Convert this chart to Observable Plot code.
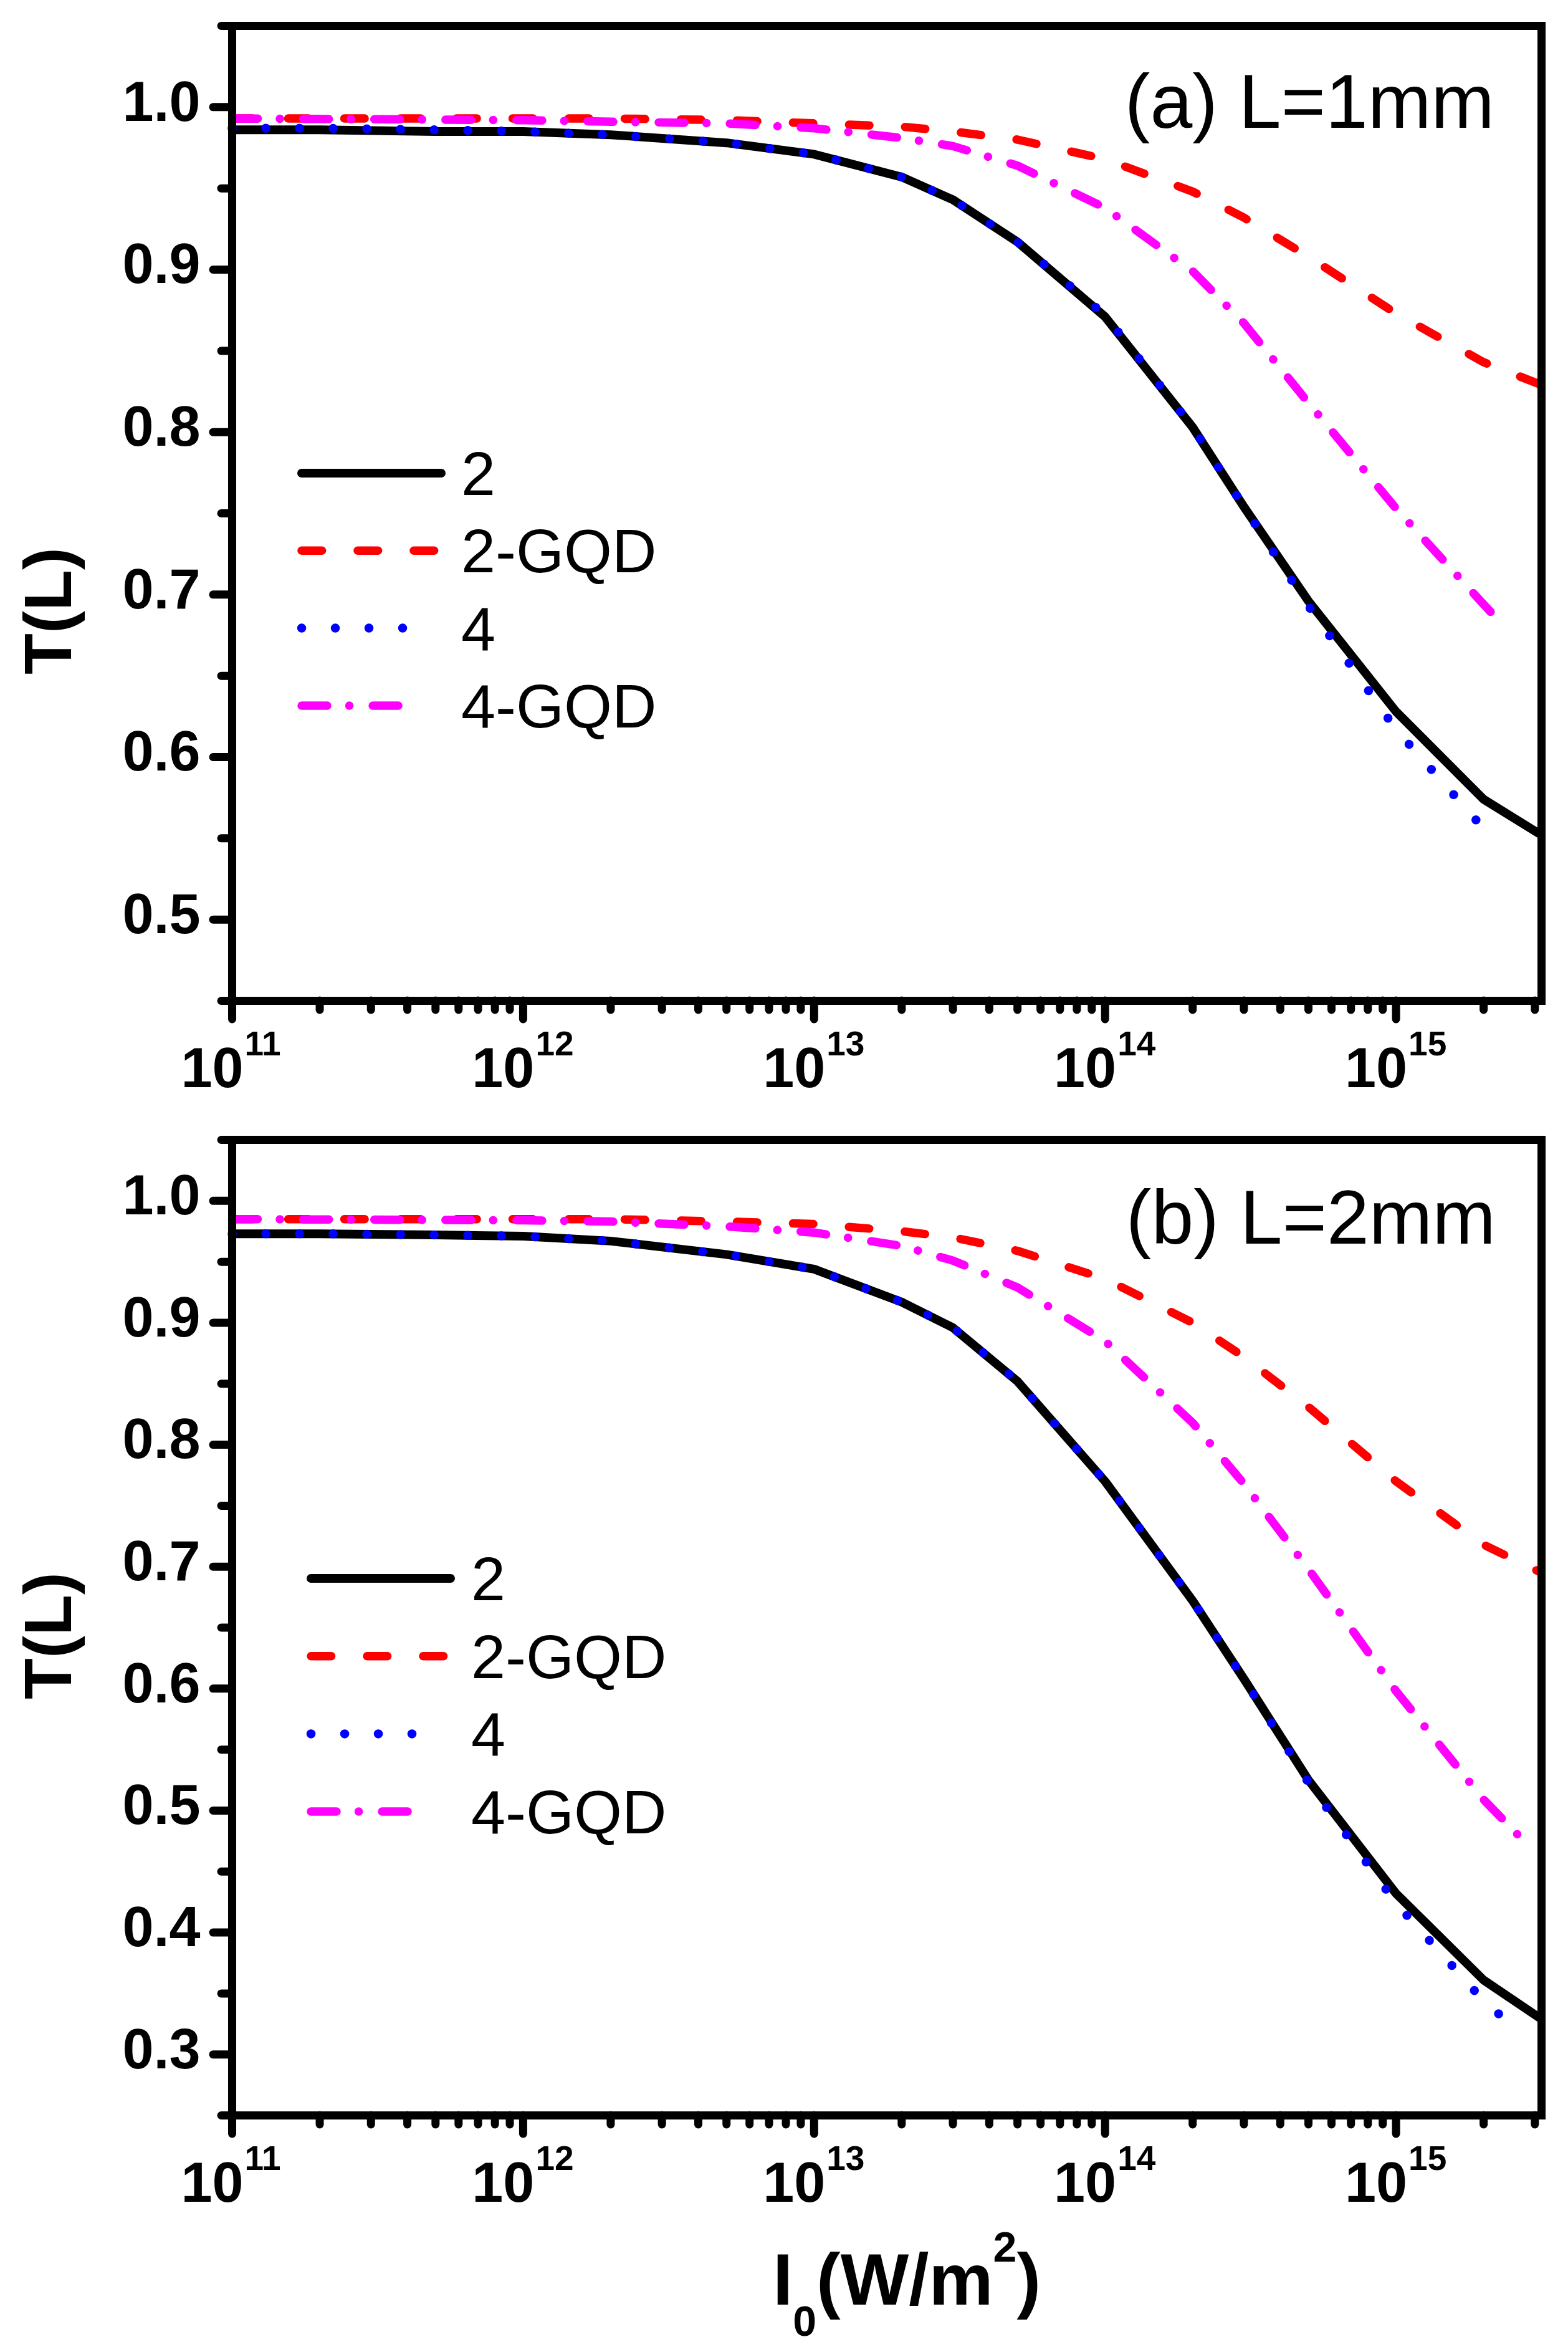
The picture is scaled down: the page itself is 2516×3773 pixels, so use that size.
<!DOCTYPE html>
<html>
<head>
<meta charset="utf-8">
<script src="https://cdn.jsdelivr.net/npm/d3@7"></script>
<script src="https://cdn.jsdelivr.net/npm/@observablehq/plot@0.6"></script>
<style>
  html, body { margin: 0; padding: 0; background: #fff; }
  svg { display: block; }
</style>
</head>
<body>
<div id="chart"></div>
<script>
// ---------- data ----------
const seriesNames = ["2", "2-GQD", "4", "4-GQD"];

// x tick values / labels
const xMajor = [1e11, 1e12, 1e13, 1e14, 1e15];
const xExponents = ["11", "12", "13", "14", "15"];
const xMinor = [2e11,3e11,4e11,5e11,6e11,7e11,8e11,9e11,
                2e12,3e12,4e12,5e12,6e12,7e12,8e12,9e12,
                2e13,3e13,4e13,5e13,6e13,7e13,8e13,9e13,
                2e14,3e14,4e14,5e14,6e14,7e14,8e14,9e14,
                2e15,3e15];

// panel (a) L=1mm
const aYMajor = [0.5, 0.6, 0.7, 0.8, 0.9, 1.0];
const aYMinor = [0.45, 0.55, 0.65, 0.75, 0.85, 0.95, 1.05];
const a_x2   = [1e11,2e11,5e11,1e12,2e12,5e12,1e13,2e13,3e13,5e13,1e14,2e14,3e14,5e14,1e15,2e15,3.16e15];
const a_y2   = [0.986,0.986,0.985,0.985,0.983,0.978,0.971,0.957,0.943,0.917,0.871,0.803,0.754,0.696,0.628,0.574,0.552];
const a_x2G  = [1e11,1e12,2e12,5e12,1e13,2e13,3e13,5e13,1e14,2e14,3e14,5e14,1e15,2e15,3.16e15];
const a_y2G  = [0.993,0.993,0.993,0.992,0.990,0.988,0.985,0.980,0.968,0.948,0.932,0.908,0.873,0.843,0.829];
const a_x4   = [1e11,2e11,5e11,1e12,2e12,5e12,1e13,2e13,3e13,5e13,1e14,2e14,3e14,5e14,1e15,2e15,2.25e15];
const a_y4   = [0.987,0.987,0.986,0.985,0.983,0.978,0.971,0.957,0.943,0.917,0.872,0.803,0.754,0.693,0.617,0.556,0.548];
const a_x4G  = [1e11,1e12,2e12,5e12,1e13,2e13,3e13,5e13,1e14,2e14,3e14,5e14,1e15,2e15,2.2e15];
const a_y4G  = [0.993,0.992,0.991,0.990,0.987,0.981,0.976,0.964,0.938,0.899,0.867,0.818,0.753,0.694,0.686];

// panel (b) L=2mm
const bYMajor = [0.3, 0.4, 0.5, 0.6, 0.7, 0.8, 0.9, 1.0];
const bYMinor = [0.25, 0.35, 0.45, 0.55, 0.65, 0.75, 0.85, 0.95, 1.05];
const b_x2   = [1e11,2e11,5e11,1e12,2e12,5e12,1e13,2e13,3e13,5e13,1e14,2e14,3e14,5e14,1e15,2e15,3.16e15];
const b_y2   = [0.973,0.973,0.972,0.971,0.967,0.956,0.944,0.917,0.896,0.852,0.770,0.672,0.608,0.525,0.432,0.361,0.329];
const b_x2G  = [1e11,1e12,2e12,5e12,1e13,2e13,3e13,5e13,1e14,2e14,3e14,5e14,1e15,2e15,3.16e15];
const b_y2G  = [0.985,0.985,0.985,0.983,0.981,0.975,0.970,0.959,0.936,0.900,0.872,0.831,0.770,0.718,0.695];
const b_x4   = [1e11,2e11,5e11,1e12,2e12,5e12,1e13,2e13,3e13,5e13,1e14,2e14,3e14,5e14,1e15,2e15,2.5e15];
const b_y4   = [0.973,0.973,0.972,0.971,0.967,0.956,0.944,0.917,0.896,0.852,0.770,0.672,0.608,0.523,0.424,0.344,0.324];
const b_x4G  = [1e11,1e12,2e12,5e12,1e13,2e13,3e13,5e13,1e14,2e14,3e14,5e14,1e15,2e15,2.75e15];
const b_y4G  = [0.985,0.984,0.983,0.979,0.974,0.963,0.951,0.929,0.885,0.818,0.768,0.698,0.598,0.509,0.475];

// ---------- styles ----------
const seriesStyle = {
  "2":     {color: "#000000", width: 14, dash: null,                  cap: "butt"},
  "2-GQD": {color: "#ff0000", width: 13.5, dash: "32.6,57.4",         cap: "round"},
  "4":     {color: "#0000ff", width: 14.5, dash: "0.1,53.9",          cap: "round"},
  "4-GQD": {color: "#ff00ff", width: 13.5, dash: "41,35.5,0.1,37.5",  cap: "round"}
};
const FONT = "'Liberation Sans', Arial, Helvetica, sans-serif";

function toRows(xs, ys, name) { return xs.map((x, i) => ({I0: x, T: ys[i], series: name})); }

function makePanel(cfg) {
  const rows = [
    ...toRows(cfg.x2, cfg.y2, "2"),
    ...toRows(cfg.x2G, cfg.y2G, "2-GQD"),
    ...toRows(cfg.x4, cfg.y4, "4"),
    ...toRows(cfg.x4G, cfg.y4G, "4-GQD")
  ];
  const lineMarks = seriesNames.map(name => {
    const s = seriesStyle[name];
    return Plot.line(rows.filter(r => r.series === name), {
      x: "I0", y: "T", stroke: s.color, strokeWidth: s.width,
      strokeDasharray: s.dash ?? undefined, strokeLinecap: s.cap, strokeLinejoin: "round"
    });
  });
  const svg = Plot.plot({
    width: 2516,
    height: cfg.height,
    marginLeft: 372,
    marginRight: 43,
    marginTop: cfg.marginTop,
    marginBottom: cfg.marginBottom,
    style: {fontFamily: FONT, background: "#fff", color: "#000", overflow: "visible"},
    x: {type: "log", domain: [1e11, Math.pow(10, 15.5)], axis: null},
    y: {domain: cfg.yDomain, axis: null},
    marks: [
      Plot.axisY(cfg.yMinor, {anchor: "left", tickSize: 17, strokeWidth: 13, strokeLinecap: "round", fill: "none", label: null}),
      Plot.axisY(cfg.yMajor, {anchor: "left", tickSize: 30, strokeWidth: 13, strokeLinecap: "round", fill: "none", label: null}),
      Plot.axisY(cfg.yMajor, {anchor: "left", tickSize: 0, tickPadding: 51, tickFormat: d => d.toFixed(1),
                              fontSize: 90, fontWeight: "bold", dy: -7, label: null}),
      Plot.axisX(xMinor, {anchor: "bottom", tickSize: 15, strokeWidth: 13, strokeLinecap: "round", fill: "none", label: null}),
      Plot.axisX(xMajor, {anchor: "bottom", tickSize: 30, strokeWidth: 13, strokeLinecap: "round", fill: "none", label: null}),
      Plot.text(xMajor, {x: d => d, text: () => "10", frameAnchor: "bottom", dy: 138, dx: 18,
                         textAnchor: "end", lineAnchor: "bottom", fontSize: 90, fontWeight: "bold"}),
      Plot.text(xMajor, {x: d => d, text: (d, i) => xExponents[i], frameAnchor: "bottom", dy: 87, dx: 20,
                         textAnchor: "start", lineAnchor: "bottom", fontSize: 55, fontWeight: "bold"}),
      ...lineMarks,
      Plot.frame({strokeWidth: 13})
    ]
  });

  const g = d3.select(svg).append("g").attr("font-family", FONT).attr("fill", "#000")
    .attr("text-anchor", "start");

  // panel annotation
  g.append("text").attr("x", cfg.annX).attr("y", cfg.annY).attr("text-anchor", "end")
    .attr("font-size", 122).text(cfg.annotation);

  // legend
  seriesNames.forEach((name, i) => {
    const s = seriesStyle[name];
    const y = cfg.legY0 + i * cfg.legStep;
    g.append("line")
      .attr("x1", cfg.legX0).attr("x2", cfg.legX0 + cfg.legLen[i])
      .attr("y1", y).attr("y2", y)
      .attr("stroke", s.color).attr("stroke-width", s.width)
      .attr("stroke-linecap", "round")
      .attr("stroke-dasharray", s.dash);
    g.append("text").attr("x", cfg.legTextX).attr("y", y + 35)
      .attr("text-anchor", "start")
      .attr("font-size", 99).text(name);
  });

  // y axis title
  g.append("text")
    .attr("transform", `translate(114,${cfg.yTitleY}) rotate(-90)`)
    .attr("text-anchor", "middle").attr("font-size", 108).attr("font-weight", "bold")
    .text("T(L)");

  if (cfg.xTitle) {
    const t = g.append("text").attr("x", 1240).attr("y", cfg.xTitleY)
      .attr("text-anchor", "start")
      .attr("font-size", 116).attr("font-weight", "bold");
    t.append("tspan").text("I");
    t.append("tspan").attr("dy", 50).attr("font-size", 68).text("0");
    t.append("tspan").attr("dy", -50).attr("font-size", 116).text("(W/m");
    t.append("tspan").attr("dy", -69).attr("font-size", 68).text("2");
    t.append("tspan").attr("dy", 69).attr("font-size", 116).text(")");
  }
  return svg;
}

const legLen = [224, 213, 216, 190];

const svgA = makePanel({
  height: 1760, marginTop: 41, marginBottom: 155,
  yDomain: [0.45, 1.05], yMajor: aYMajor, yMinor: aYMinor,
  x2: a_x2, y2: a_y2, x2G: a_x2G, y2G: a_y2G, x4: a_x4, y4: a_y4, x4G: a_x4G, y4G: a_y4G,
  annotation: "(a) L=1mm", annX: 2398, annY: 205,
  legX0: 484, legLen, legY0: 759, legStep: 124.3, legTextX: 740,
  yTitleY: 980, xTitle: false
});

const svgB = makePanel({
  height: 2013, marginTop: 68, marginBottom: 380,
  yDomain: [0.25, 1.05], yMajor: bYMajor, yMinor: bYMinor,
  x2: b_x2, y2: b_y2, x2G: b_x2G, y2G: b_y2G, x4: b_x4, y4: b_y4, x4G: b_x4G, y4G: b_y4G,
  annotation: "(b) L=2mm", annX: 2400, annY: 235,
  legX0: 499, legLen, legY0: 772, legStep: 124.7, legTextX: 756,
  yTitleY: 864, xTitle: true, xTitleY: 1937
});

const chart = document.getElementById("chart");
chart.appendChild(svgA);
chart.appendChild(svgB);
</script>
</body>
</html>
